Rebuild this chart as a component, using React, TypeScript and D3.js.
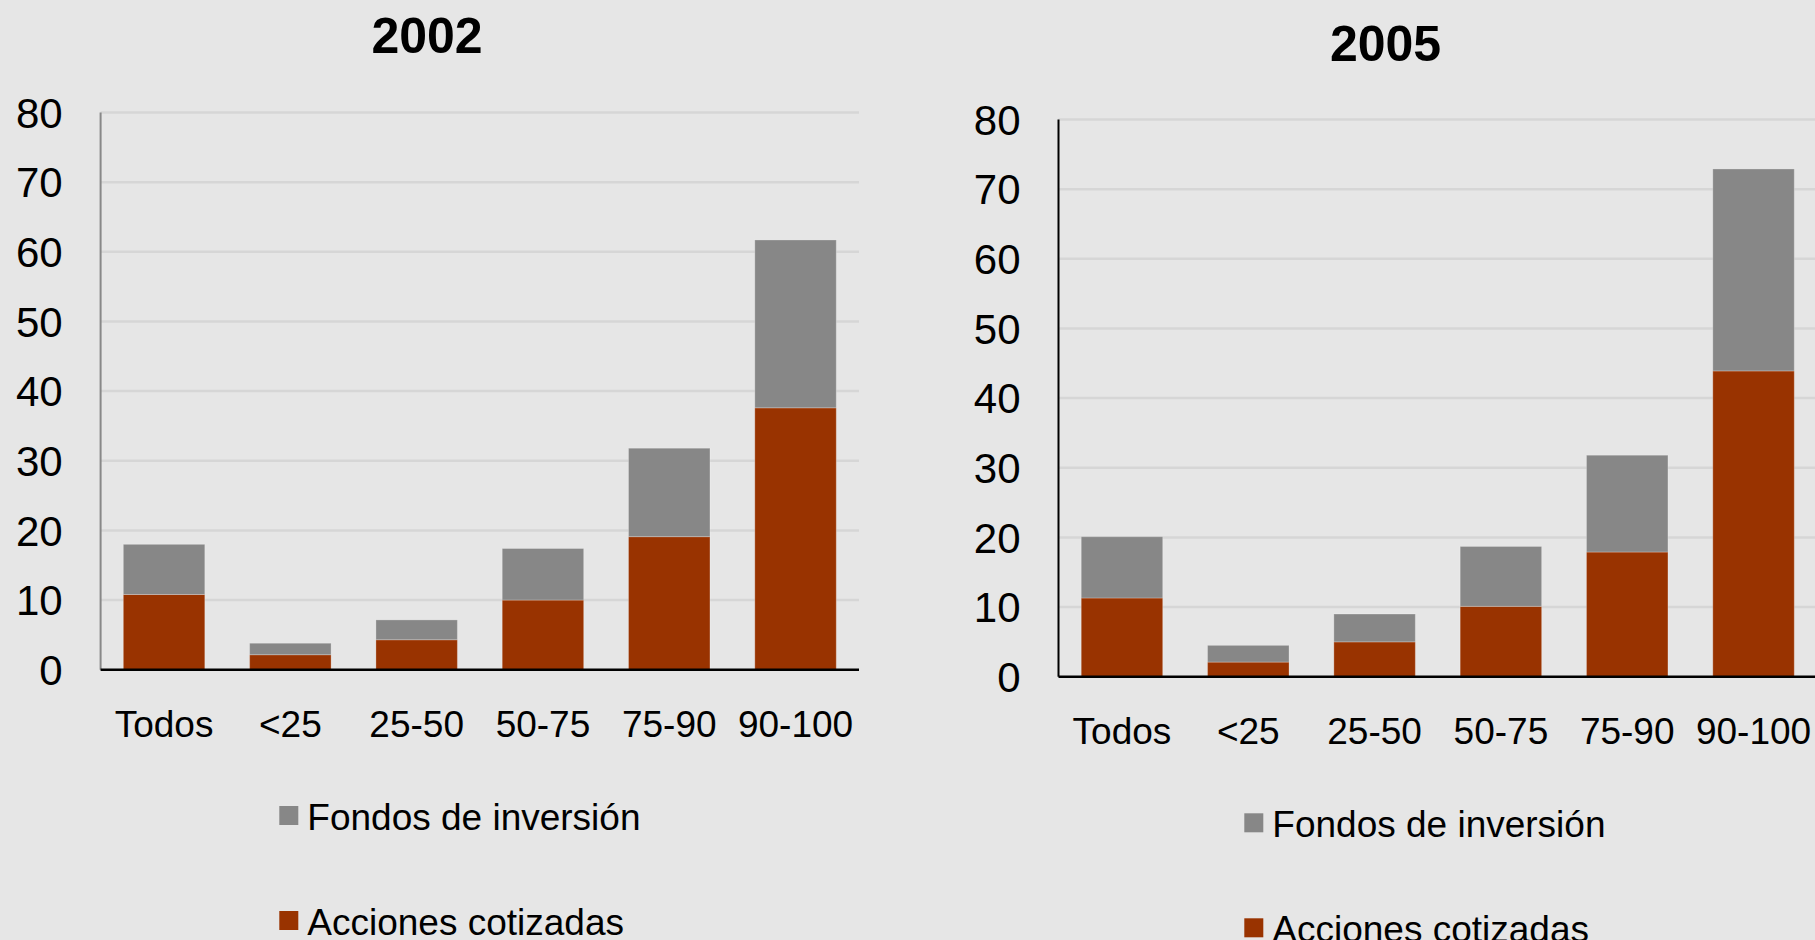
import React from "react";
import * as d3 from "d3";

const categories = ["Todos", "<25", "25-50", "50-75", "75-90", "90-100"];
const yTicks = [0, 10, 20, 30, 40, 50, 60, 70, 80];

const acciones2002 = [10.8, 2.15, 4.3, 10.0, 19.1, 37.6];
const fondos2002 = [7.2, 1.65, 2.85, 7.4, 12.7, 24.1];
const acciones2005 = [11.3, 2.1, 5.0, 10.1, 17.9, 43.9];
const fondos2005 = [8.8, 2.4, 4.0, 8.6, 13.9, 29.0];

const seriesNames = ["Fondos de inversión", "Acciones cotizadas"];

const W = 1815;
const H = 940;
const BG = "#e6e6e6";
const GRAY = "#878787";
const RED = "#993300";
const FONT = "'Liberation Sans', Arial, Helvetica, sans-serif";

type PanelCfg = {
  title: string;
  acciones: number[];
  fondos: number[];
  left: number;
  right: number;
  top: number;
  bottom: number;
  titleX: number;
  titleY: number;
  axisColor: string;
  legendX: number;
  legendY: number;
};

const panels: PanelCfg[] = [
  {
    title: "2002",
    acciones: acciones2002,
    fondos: fondos2002,
    left: 100.6,
    right: 859,
    top: 112.5,
    bottom: 669.7,
    titleX: 427,
    titleY: 53,
    axisColor: "#888888",
    legendX: 279.3,
    legendY: 806,
  },
  {
    title: "2005",
    acciones: acciones2005,
    fondos: fondos2005,
    left: 1058.5,
    right: 1817,
    top: 119.5,
    bottom: 676.7,
    titleX: 1385.5,
    titleY: 61,
    axisColor: "#000000",
    legendX: 1244.3,
    legendY: 813.3,
  },
];

function Panel({ cfg }: { cfg: PanelCfg }) {
  const x = d3
    .scaleBand<string>()
    .domain(categories)
    .range([cfg.left, cfg.right])
    .paddingInner(0.355)
    .paddingOuter(0.18);
  const y = d3.scaleLinear().domain([0, 80]).range([cfg.bottom, cfg.top]);

  const stackData = categories.map((c, i) => ({
    cat: c,
    acciones: cfg.acciones[i],
    fondos: cfg.fondos[i],
  }));
  const stack = d3.stack<any>().keys(["acciones", "fondos"]);
  const layers = stack(stackData);
  const colors: Record<string, string> = { acciones: RED, fondos: GRAY };

  const legendItems = [
    { name: seriesNames[0], color: GRAY },
    { name: seriesNames[1], color: RED },
  ];

  return (
    <g>
      <text
        x={cfg.titleX}
        y={cfg.titleY}
        textAnchor="middle"
        fontFamily={FONT}
        fontWeight="bold"
        fontSize={50}
        fill="#000"
      >
        {cfg.title}
      </text>
      {yTicks
        .filter((t) => t > 0)
        .map((t) => (
          <line
            key={"g" + t}
            x1={cfg.left}
            x2={cfg.right}
            y1={y(t)}
            y2={y(t)}
            stroke="#d6d6d6"
            strokeWidth={2.5}
          />
        ))}
      {yTicks.map((t) => (
        <text
          key={"t" + t}
          x={cfg.left - 38}
          y={y(t)}
          dy="0.36em"
          textAnchor="end"
          fontFamily={FONT}
          fontSize={42}
          fill="#000"
        >
          {t}
        </text>
      ))}
      {layers.map((layer) => (
        <g key={layer.key} fill={colors[layer.key]}>
          {layer.map((d: any, i: number) => (
            <rect
              key={i}
              x={x(d.data.cat)}
              y={y(d[1])}
              width={x.bandwidth()}
              height={y(d[0]) - y(d[1])}
              stroke="rgba(255,255,255,0.25)"
              strokeWidth={1}
            />
          ))}
        </g>
      ))}
      <line
        x1={cfg.left}
        x2={cfg.left}
        y1={cfg.top}
        y2={cfg.bottom}
        stroke={cfg.axisColor}
        strokeWidth={2}
      />
      <line
        x1={cfg.left}
        x2={cfg.right}
        y1={cfg.bottom}
        y2={cfg.bottom}
        stroke="#000"
        strokeWidth={2.5}
      />
      {categories.map((c) => (
        <text
          key={"x" + c}
          x={(x(c) as number) + x.bandwidth() / 2}
          y={cfg.bottom + 67.5}
          textAnchor="middle"
          fontFamily={FONT}
          fontSize={37}
          fill="#000"
        >
          {c}
        </text>
      ))}
      {legendItems.map((it, i) => (
        <g key={it.name} transform={`translate(${cfg.legendX},${cfg.legendY + i * 105})`}>
          <rect x={0} y={0} width={19} height={19} fill={it.color} />
          <text x={28} y={23.5} fontFamily={FONT} fontSize={37} fill="#000">
            {it.name}
          </text>
        </g>
      ))}
    </g>
  );
}

export default function App() {
  return (
    <div style={{ position: "absolute", left: 0, top: 0, width: W, height: H, overflow: "hidden" }}>
      <svg width={W} height={H} viewBox={`0 0 ${W} ${H}`} style={{ display: "block" }}>
        <rect x={0} y={0} width={W} height={H} fill={BG} />
        {panels.map((p) => (
          <Panel key={p.title} cfg={p} />
        ))}
      </svg>
    </div>
  );
}
